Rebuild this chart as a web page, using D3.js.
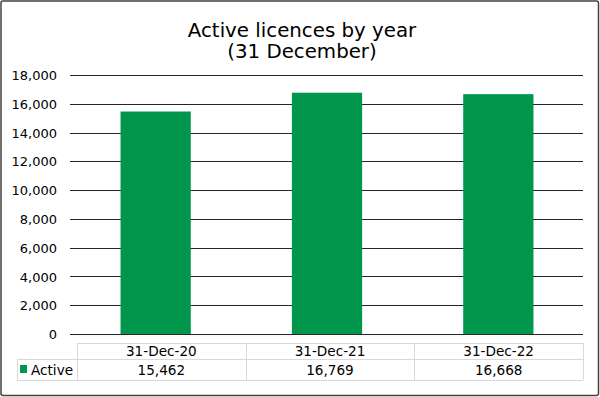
<!DOCTYPE html>
<html><head><meta charset="utf-8">
<script src="https://cdn.jsdelivr.net/npm/d3@7"></script>
<style>body{margin:0;background:#fff}svg{display:block}</style>
</head><body>
<script>
const categories = ["31-Dec-20", "31-Dec-21", "31-Dec-22"];
const activeValues = [15462, 16769, 16668];
const seriesName = "Active";
const yTicks = [0, 2000, 4000, 6000, 8000, 10000, 12000, 14000, 16000, 18000];
const titleLines = ["Active licences by year", "(31 December)"];

const W = 600, H = 397;
const font = "Verdana, 'DejaVu Sans', sans-serif";
const green = "#00964B";
const svg = d3.select("body").append("svg").attr("width", W).attr("height", H);

svg.append("rect").attr("x", 1).attr("y", 1).attr("width", W - 2.5).attr("height", H - 2.5)
  .attr("fill", "#fff").attr("stroke", "#404040").attr("stroke-width", 1.5).attr("rx", 2);

svg.selectAll("text.title").data(titleLines).enter().append("text")
  .attr("x", 302).attr("y", (d, i) => 37 + i * 21)
  .attr("text-anchor", "middle").attr("font-family", font).attr("font-size", 19.8)
  .attr("fill", "#000").text(d => d);

const x0 = 77, x1 = 583;
const x = d3.scaleBand().domain(categories).range([70, 584]).paddingInner(0.59).paddingOuter(0.295);
const y = d3.scaleLinear().domain([0, 18000]).range([334, 75]);

const gridG = svg.append("g");
gridG.selectAll("line").data(yTicks).enter().append("line")
  .attr("x1", 70).attr("x2", x1).attr("y1", d => Math.round(y(d)) + 0.5).attr("y2", d => Math.round(y(d)) + 0.5)
  .attr("stroke", "#262626").attr("stroke-width", 1.2);

const yAxis = d3.axisLeft(y).tickValues(yTicks).tickSize(0).tickPadding(0)
  .tickFormat(d3.format(","));
const ya = svg.append("g").attr("transform", "translate(57,0)").call(yAxis);
ya.select(".domain").remove();
ya.selectAll("text").attr("font-family", font).attr("font-size", 13).attr("fill", "#000").attr("dy", "0.35em");

svg.selectAll("rect.bar").data(activeValues).enter().append("rect")
  .attr("x", (d, i) => x(categories[i])).attr("width", x.bandwidth())
  .attr("y", d => y(d)).attr("height", d => y(0) - y(d)).attr("fill", green);

svg.append("line").attr("x1", 70).attr("x2", x1).attr("y1", Math.round(y(0)) + 0.5).attr("y2", Math.round(y(0)) + 0.5)
  .attr("stroke", "#262626").attr("stroke-width", 1.2);

// data table
const tTop = 343, tMid = 359, tBot = 380, tLeft = 17;
const tg = svg.append("g").attr("stroke", "#d9d9d9").attr("stroke-width", 1).attr("fill", "none");
const step = (x1 - x0) / categories.length;
const cols = categories.map((c, i) => x0 + i * step);
tg.append("line").attr("x1", x0).attr("x2", x1).attr("y1", tTop + 0.5).attr("y2", tTop + 0.5);
tg.append("line").attr("x1", tLeft).attr("x2", x1).attr("y1", tMid + 0.5).attr("y2", tMid + 0.5);
tg.append("line").attr("x1", tLeft).attr("x2", x1).attr("y1", tBot + 0.5).attr("y2", tBot + 0.5);
tg.append("line").attr("x1", tLeft + 0.5).attr("x2", tLeft + 0.5).attr("y1", tMid).attr("y2", tBot);
tg.selectAll("line.v").data(cols.concat([x1])).enter().append("line")
  .attr("x1", d => Math.round(d) + 0.5).attr("x2", d => Math.round(d) + 0.5).attr("y1", tTop).attr("y2", tBot);

svg.selectAll("text.cat").data(categories).enter().append("text")
  .attr("x", (d, i) => cols[i] + step / 2).attr("y", 356)
  .attr("text-anchor", "middle").attr("font-family", font).attr("font-size", 13.6).attr("fill", "#000").text(d => d);
svg.selectAll("text.val").data(activeValues).enter().append("text")
  .attr("x", (d, i) => cols[i] + step / 2).attr("y", 375)
  .attr("text-anchor", "middle").attr("font-family", font).attr("font-size", 13.6).attr("fill", "#000")
  .text(d => d3.format(",")(d));
svg.append("rect").attr("x", 20).attr("y", 365).attr("width", 7).attr("height", 8).attr("fill", green);
svg.append("text").attr("x", 31).attr("y", 375).attr("font-family", font).attr("font-size", 13.6).attr("fill", "#000").text(seriesName);
</script>
</body></html>
